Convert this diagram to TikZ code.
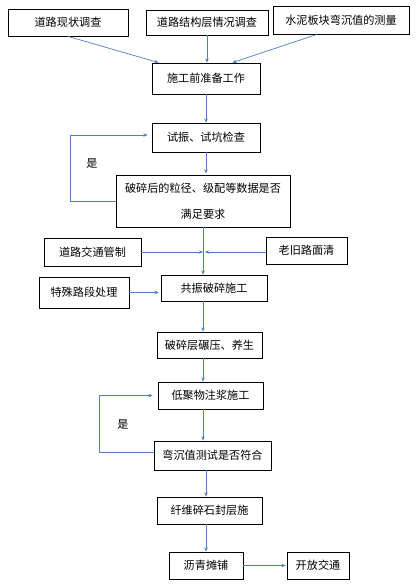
\documentclass[tikz,border=0pt]{standalone}
\usepackage{fontspec}
\setmainfont{Noto Sans CJK SC}
\usetikzlibrary{arrows.meta}
\definecolor{flowblue}{HTML}{4F81BD}

\begin{document}
\begin{tikzpicture}[
  x=0.03cm, y=-0.03cm,
  box/.style={
    draw, rectangle, line width=0.7pt,
    font=\fontsize{9.5}{11}\selectfont, align=center, inner sep=2pt
  },
  arr/.style={-{Stealth[length=3.5pt,width=3pt]}, draw=flowblue, line width=0.6pt},
  lbl/.style={font=\fontsize{9.5}{11}\selectfont},
]
\useasboundingbox (0,0) rectangle (415,586);

% survey boxes
\node[box, minimum width=3.6cm,  minimum height=0.81cm] (b1) at (68, 22.5) {道路现状调查};
\node[box, minimum width=3.66cm, minimum height=0.75cm] (b2) at (207, 22.5) {道路结构层情况调查};
\node[box, minimum width=4.08cm, minimum height=0.84cm] (b3) at (341, 20) {水泥板块弯沉值的测量};

% main flow
\node[box, minimum width=3.24cm, minimum height=0.93cm] (p0) at (206, 78.5) {施工前准备工作};
\node[box, minimum width=3.24cm, minimum height=0.87cm] (p1) at (206, 137.5) {试振、试坑检查};
\node[box, minimum width=5.22cm, minimum height=1.56cm, font=\fontsize{9.5}{22}\selectfont] (p2) at (203, 201)
  {破碎后的粒径、级配等数据是否\\满足要求};
\node[box, minimum width=3.18cm, minimum height=0.78cm] (p3) at (214, 288) {共振破碎施工};
\node[box, minimum width=3.15cm, minimum height=0.78cm] (p4) at (209.5, 345) {破碎层碾压、养生};
\node[box, minimum width=3.15cm, minimum height=0.81cm] (p5) at (210.5, 395.5) {低聚物注浆施工};
\node[box, minimum width=3.51cm, minimum height=0.87cm] (p6) at (212.5, 455.5) {弯沉值测试是否符合};
\node[box, minimum width=3.15cm, minimum height=0.81cm] (p7) at (209.5, 510.5) {纤维碎石封层施};
\node[box, minimum width=2.22cm, minimum height=0.81cm] (p8) at (206, 565.5) {沥青摊铺};
\node[box, minimum width=1.86cm, minimum height=0.81cm] (p9) at (318, 565.5) {开放交通};

% side boxes
\node[box, minimum width=2.91cm, minimum height=0.84cm] (c1) at (92.5, 252) {道路交通管制};
\node[box, minimum width=2.43cm, minimum height=0.81cm] (c2) at (306.5, 250.5) {老旧路面清};
\node[box, minimum width=2.7cm,  minimum height=0.93cm] (c3) at (84, 292.5) {特殊路段处理};

\coordinate (jn) at (203, 252);

\node[lbl] (y1) at (92, 164) {是};
\node[lbl] (y2) at (123, 424) {是};

\draw[arr] (b1.south) -- ([xshift=0.21cm]p0.north west);
\draw[arr] (b2.south) -- (b2.south |- p0.north);
\draw[arr] ([xshift=-0.72cm]b3.south) -- ([xshift=-0.84cm]p0.north east);
\draw[arr] (p0.south -| p1.north) -- (p1.north);
\draw[arr] (p1.south) -- ++(0, 21);
\draw[arr] (p2.south) -- (p2.south |- p3.north);
\draw[arr] (c1.east) -- (jn);
\draw[arr] (c2.west |- jn) -- ([xshift=0.06cm]jn);
\draw[arr] (c3.east) -- ([xshift=-0.06cm]c3.east -| p3.west);
\draw[arr] (p3.south -| p2.south) -- (p4.north -| p2.south);
\draw[arr] (p4.south -| p2.south) -- (p5.north -| p2.south);
\draw[arr] (p5.south -| p2.south) -- (p6.north -| p2.south);
\draw[arr] (p6.south -| p0.south) -- (p7.north -| p0.south);
\draw[arr] (p7.south -| p8.north) -- (p8.north);
\draw[arr] (p8.east) -- ([xshift=-0.03cm]p9.west);

% loops back
\draw[arr] (p2.west) -- ++(-45, 0) |- ([xshift=-0.12cm, yshift=0.075cm]p1.west);
\draw[arr] ([yshift=0.1cm]p6.west) -- ++(-54, 0) |- ([xshift=-0.15cm]p5.west);

\end{tikzpicture}
\end{document}
